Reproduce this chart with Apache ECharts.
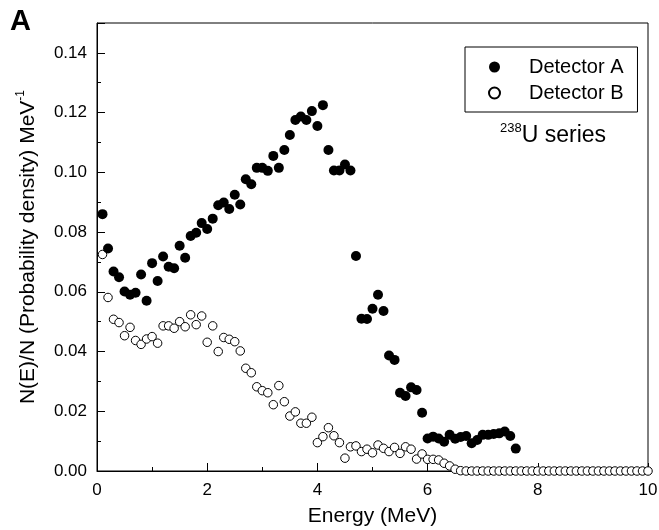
<!DOCTYPE html>
<html>
<head>
<meta charset="utf-8">
<script src="https://cdn.jsdelivr.net/npm/echarts@6/dist/echarts.min.js"></script>
<style>
  html, body { margin: 0; padding: 0; background: #fff; }
  #chart { width: 659px; height: 530px; }
</style>
</head>
<body>
<div id="chart"></div>
<script>
// energy bins (MeV)
const energy = [
  0.1, 0.2, 0.3, 0.4, 0.5, 0.6, 0.7, 0.8, 0.9, 1.0,
  1.1, 1.2, 1.3, 1.4, 1.5, 1.6, 1.7, 1.8, 1.9, 2.0,
  2.1, 2.2, 2.3, 2.4, 2.5, 2.6, 2.7, 2.8, 2.9, 3.0,
  3.1, 3.2, 3.3, 3.4, 3.5, 3.6, 3.7, 3.8, 3.9, 4.0,
  4.1, 4.2, 4.3, 4.4, 4.5, 4.6, 4.7, 4.8, 4.9, 5.0,
  5.1, 5.2, 5.3, 5.4, 5.5, 5.6, 5.7, 5.8, 5.9, 6.0,
  6.1, 6.2, 6.3, 6.4, 6.5, 6.6, 6.7, 6.8, 6.9, 7.0,
  7.1, 7.2, 7.3, 7.4, 7.5, 7.6, 7.7, 7.8, 7.9, 8.0,
  8.1, 8.2, 8.3, 8.4, 8.5, 8.6, 8.7, 8.8, 8.9, 9.0,
  9.1, 9.2, 9.3, 9.4, 9.5, 9.6, 9.7, 9.8, 9.9, 10.0
]

// Detector A (filled), 0.1 .. 7.6 MeV
const detectorA = [
  0.0860, 0.0745, 0.0668, 0.0649, 0.0601, 0.0590, 0.0597, 0.0658, 0.0570, 0.0696,
  0.0636, 0.0718, 0.0684, 0.0679, 0.0754, 0.0714, 0.0787, 0.0798, 0.0830, 0.0810,
  0.0845, 0.0890, 0.0899, 0.0877, 0.0925, 0.0892, 0.0977, 0.0960, 0.1015, 0.1015,
  0.1005, 0.1055, 0.1015, 0.1075, 0.1125, 0.1175, 0.1187, 0.1175, 0.1205, 0.1155,
  0.1225, 0.1075, 0.1006, 0.1006, 0.1026, 0.1006, 0.0720, 0.0510, 0.0509, 0.0543,
  0.0590, 0.0536, 0.0387, 0.0372, 0.0262, 0.0251, 0.0280, 0.0271, 0.0195, 0.0109,
  0.0115, 0.0109, 0.0098, 0.0121, 0.0108, 0.0114, 0.0117, 0.0093, 0.0104, 0.0121,
  0.0121, 0.0124, 0.0126, 0.0132, 0.0117, 0.0075
]

// Detector B (open), 0.1 .. 10 MeV
const detectorB = [
  0.0725, 0.0581, 0.0508, 0.0497, 0.0453, 0.0481, 0.0437, 0.0424, 0.0442, 0.0450,
  0.0428, 0.0486, 0.0486, 0.0478, 0.0500, 0.0483, 0.0523, 0.0490, 0.0519, 0.0431,
  0.0486, 0.0400, 0.0447, 0.0441, 0.0433, 0.0402, 0.0344, 0.0329, 0.0282, 0.0269,
  0.0262, 0.0222, 0.0286, 0.0232, 0.0184, 0.0198, 0.0160, 0.0160, 0.0180, 0.0095,
  0.0115, 0.0145, 0.0118, 0.0095, 0.0043, 0.0081, 0.0084, 0.0065, 0.0073, 0.0061,
  0.0087, 0.0076, 0.0065, 0.0079, 0.0059, 0.0081, 0.0073, 0.0040, 0.0057, 0.0039,
  0.0039, 0.0037, 0.0026, 0.0017, 0.0006, 0.0001, 0, 0, 0, 0,
  0, 0, 0, 0, 0, 0, 0, 0, 0, 0,
  0, 0, 0, 0, 0, 0, 0, 0, 0, 0,
  0, 0, 0, 0, 0, 0, 0, 0, 0, 0
]

const font = "'Liberation Sans', Arial, sans-serif"

function pairs (values) {
  return values.map(function (v, i) { return [energy[i], v] })
}

let chart = echarts.init(document.getElementById('chart'))
chart.setOption({
  animation: false,
  textStyle: { fontFamily: font, color: '#000' },
  title: [
    {
      text: 'A',
      left: 5, top: 2,
      textStyle: { fontFamily: font, fontSize: 29, fontWeight: 'bold', color: '#000' }
    },
    {
      text: '{s|238}{m|U series}',
      left: 495, top: 117,
      textStyle: {
        fontWeight: 'normal',
        rich: {
          s: { fontFamily: font, fontSize: 13, fontWeight: 'normal', verticalAlign: 'top', lineHeight: 13, color: '#000' },
          m: { fontFamily: font, fontSize: 23, fontWeight: 'normal', lineHeight: 28, color: '#000' }
        }
      }
    }
  ],
  legend: {
    orient: 'vertical',
    left: 465, top: 47,
    padding: [10, 14, 9, 23],
    itemGap: 6,
    itemWidth: 11, itemHeight: 11,
    icon: 'circle',
    borderColor: '#000', borderWidth: 1,
    textStyle: { fontFamily: font, fontSize: 20, color: '#000', lineHeight: 20, padding: [0, 0, 0, 24] },
    data: ['Detector A', 'Detector B']
  },
  grid: {
    left: 97, right: 11, top: 23, bottom: 59,
    outerBoundsMode: 'none',
    show: true, borderColor: '#000', borderWidth: 1, backgroundColor: 'transparent'
  },
  xAxis: {
    type: 'value', min: 0, max: 10, interval: 2,
    name: 'Energy (MeV)', nameLocation: 'middle', nameGap: 35,
    nameTextStyle: { fontFamily: font, fontSize: 21, color: '#000' },
    axisLine: { onZero: false, lineStyle: { color: '#000', width: 1 } },
    axisTick: { inside: true, length: 8, lineStyle: { color: '#000' } },
    minorTick: { show: true, splitNumber: 2, length: 4, lineStyle: { color: '#000' } },
    axisLabel: { fontFamily: font, fontSize: 17, color: '#000', margin: 11 },
    splitLine: { show: false }
  },
  yAxis: {
    type: 'value', min: 0, max: 0.15, interval: 0.02,
    name: 'N(E)/N (Probability density) MeV{sup|-1}', nameLocation: 'middle', nameGap: 56, nameRotate: 90,
    nameTextStyle: {
      fontFamily: font, fontSize: 21, color: '#000', lineHeight: 26,
      rich: { sup: { fontFamily: font, fontSize: 12, verticalAlign: 'top', lineHeight: 12, color: '#000' } }
    },
    axisLine: { show: true, lineStyle: { color: '#000', width: 1 } },
    axisTick: { inside: true, length: 8, lineStyle: { color: '#000' } },
    minorTick: { show: true, splitNumber: 2, length: 4, lineStyle: { color: '#000' } },
    axisLabel: {
      fontFamily: font, fontSize: 17, color: '#000', margin: 10, showMaxLabel: false,
      formatter: function (v) { return v.toFixed(2) }
    },
    splitLine: { show: false }
  },
  series: [
    {
      name: 'Detector B',
      type: 'scatter',
      symbol: 'circle',
      symbolSize: 8.5,
      z: 2,
      itemStyle: { color: '#fff', borderColor: '#000', borderWidth: 1, opacity: 1 },
      data: pairs(detectorB)
    },
    {
      name: 'Detector A',
      type: 'scatter',
      symbol: 'circle',
      symbolSize: 10,
      z: 3,
      itemStyle: { color: '#000', opacity: 1 },
      data: pairs(detectorA)
    }
  ]
})
</script>
</body>
</html>
